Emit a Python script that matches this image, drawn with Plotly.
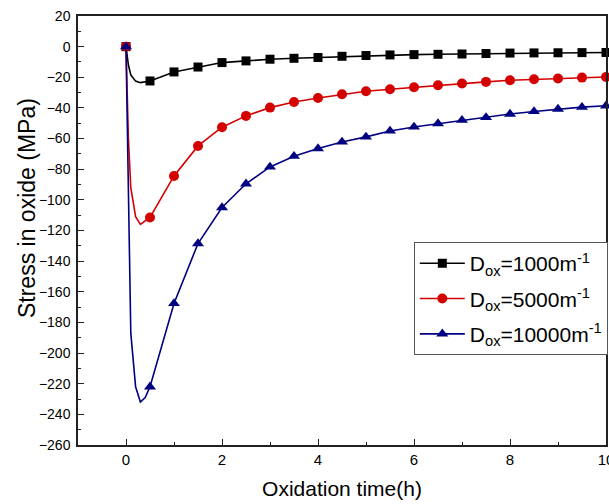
import plotly.graph_objects as go

# Oxidation time (h)
t_1000 = [0, 0.05, 0.1, 0.2, 0.3, 0.5, 1, 1.5, 2, 2.5, 3, 3.5, 4, 4.5, 5, 5.5, 6, 6.5, 7, 7.5, 8, 8.5, 9, 9.5, 10]
s_1000 = [0, -12, -18.5, -22.5, -23.5, -22.4, -16.5, -13.3, -10.4, -9.3, -8.2, -7.6, -7.1, -6.3, -5.8, -5.4, -5.2, -5.0, -4.8, -4.5, -4.2, -4.1, -4.0, -3.9, -3.8]

t_5000 = [0, 0.05, 0.1, 0.2, 0.3, 0.5, 1, 1.5, 2, 2.5, 3, 3.5, 4, 4.5, 5, 5.5, 6, 6.5, 7, 7.5, 8, 8.5, 9, 9.5, 10]
s_5000 = [0, -60, -92, -111, -116, -111.5, -84.4, -64.8, -52.6, -45.2, -39.8, -36.1, -33.5, -31.1, -29.1, -27.8, -26.5, -25.2, -24.1, -23.0, -21.9, -21.3, -20.8, -20.2, -19.8]

t_10000 = [0, 0.05, 0.1, 0.2, 0.3, 0.4, 0.5, 1, 1.5, 2, 2.5, 3, 3.5, 4, 4.5, 5, 5.5, 6, 6.5, 7, 7.5, 8, 8.5, 9, 9.5, 10]
s_10000 = [0, -100, -187, -222, -232, -229, -222, -167.6, -128.5, -105, -89.5, -78.5, -71.5, -66.5, -62.2, -58.9, -55, -52.4, -50.2, -48, -46.2, -44, -42.3, -40.7, -39.5, -38.6]

# times that carry a marker
marked_times = [0, 0.5, 1, 1.5, 2, 2.5, 3, 3.5, 4, 4.5, 5, 5.5, 6, 6.5, 7, 7.5, 8, 8.5, 9, 9.5, 10]

labels = ["D<sub>ox</sub>=1000m<sup>-1</sup>",
          "D<sub>ox</sub>=5000m<sup>-1</sup>",
          "D<sub>ox</sub>=10000m<sup>-1</sup>"]

x_title = "Oxidation time(h)"
y_title = "Stress in oxide (MPa)"

series = [
    (t_1000, s_1000, labels[0], "#000000", "square", 9),
    (t_5000, s_5000, labels[1], "#d40000", "circle", 10),
    (t_10000, s_10000, labels[2], "#000080", "triangle-up", 10.5),
]

FONT = "Liberation Sans, Arial, sans-serif"

fig = go.Figure()
for i, (t, s, name, col, sym, size) in enumerate(series):
    colors = [col if ti in marked_times else "rgba(0,0,0,0)" for ti in t]
    fig.add_trace(go.Scatter(
        x=t, y=s, name=name, mode="lines+markers", legendgroup=f"g{i}",
        line=dict(color=col, width=1.6),
        marker=dict(symbol=sym, size=size, color=colors, line=dict(width=0)),
        cliponaxis=False,
    ))

fig.update_layout(
    width=609, height=504,
    margin=dict(l=78, r=3, t=16, b=59, autoexpand=False),
    paper_bgcolor="white", plot_bgcolor="white",
    font=dict(family=FONT, color="black"),
    showlegend=True,
    legend=dict(
        x=0.636, y=0.473, xanchor="left", yanchor="top",
        bordercolor="#555555", borderwidth=1, bgcolor="white",
        font=dict(size=21, family=FONT), itemwidth=45,
        tracegroupgap=5,
    ),
    annotations=[dict(
        text=y_title, textangle=-90, xref="paper", yref="paper",
        x=-0.0966, y=0.5524, xanchor="center", yanchor="middle",
        showarrow=False, font=dict(size=23, family=FONT),
    )],
)
fig.update_xaxes(
    range=[-1, 10], dtick=2, tick0=0, automargin=False,
    ticklabeloverflow="allow",
    ticks="inside", ticklen=6, tickwidth=1, tickcolor="#222",
    minor=dict(ticks="inside", dtick=1, ticklen=3, tickcolor="#222"),
    showline=True, linecolor="#222", linewidth=1.5, mirror=True,
    showgrid=False, zeroline=False,
    tickfont=dict(size=15, family=FONT),
    title=dict(text=x_title, font=dict(size=21, family=FONT), standoff=15),
)
fig.update_yaxes(
    range=[-260, 20], dtick=20, tick0=0, automargin=False,
    ticklabeloverflow="allow", ticklabelstandoff=3,
    ticks="inside", ticklen=6, tickwidth=1, tickcolor="#222",
    minor=dict(ticks="inside", dtick=10, ticklen=3, tickcolor="#222"),
    showline=True, linecolor="#222", linewidth=1.5, mirror=True,
    showgrid=False, zeroline=False,
    tickfont=dict(size=14, family=FONT),
)

fig.write_html(
    "out.html",
    config={"displayModeBar": False},
    post_script="document.body.style.margin='0';document.body.style.overflow='hidden';",
)
